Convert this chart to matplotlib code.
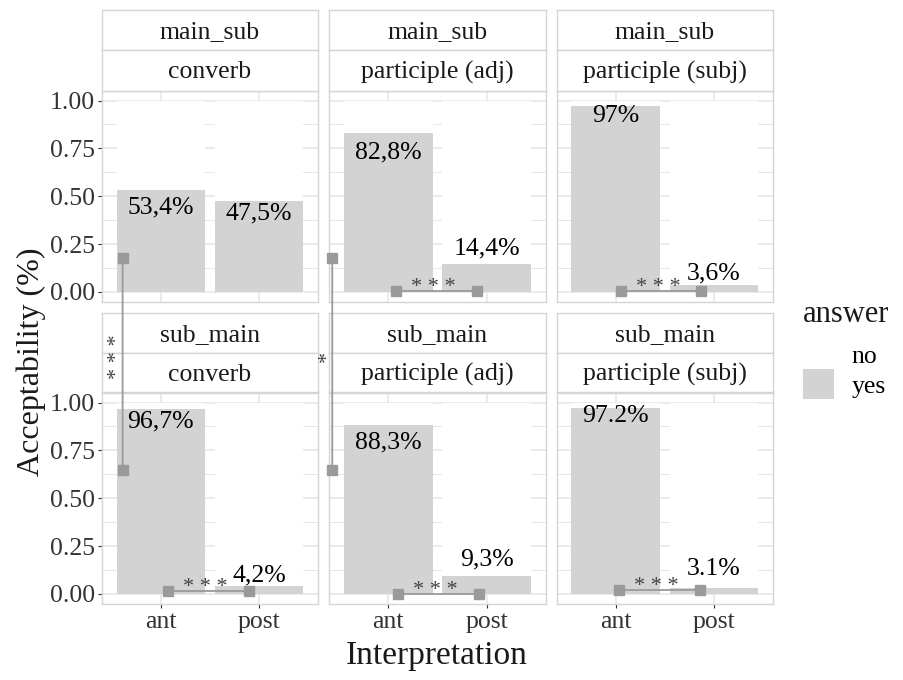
import numpy as np
import matplotlib
matplotlib.use('Agg')
import matplotlib.pyplot as plt
from matplotlib.patches import Patch, ConnectionPatch
from matplotlib.transforms import ScaledTranslation

plt.rcParams['font.family'] = ['Liberation Serif', 'DejaVu Serif']

# ── data ─────────────────────────────────────────────────────
orders = ['main_sub', 'sub_main']
constructions = ['converb', 'participle (adj)', 'participle (subj)']
interpretations = ['ant', 'post']

# share of "yes" answers per construction: [ant, post]
main_sub_yes = [[0.534, 0.475], [0.828, 0.144], [0.970, 0.036]]
sub_main_yes = [[0.967, 0.042], [0.883, 0.093], [0.972, 0.031]]

main_sub_labels = [['53,4%', '47,5%'], ['82,8%', '14,4%'], ['97%', '3,6%']]
sub_main_labels = [['96,7%', '4,2%'], ['88,3%', '9,3%'], ['97.2%', '3.1%']]

# ant vs post within each panel
main_sub_sig = [None, '***', '***']
sub_main_sig = ['***', '***', '***']
# main_sub vs sub_main (ant) per construction
order_sig = ['***', '*', None]

# ── style ────────────────────────────────────────────────────
YES_GREY = '#D3D3D3'
GRID = '#E6E6E6'
BORDER = '#D5D5D5'
SIG_GREY = '#9A9A9A'
STAR = '#444444'
TXT = '#1A1A1A'
TICK_TXT = '#333333'

# label nudges (fraction of y axis) for the percentage texts
label_nudge = [[[-0.094, -0.065], [-0.098, 0.084], [-0.050, 0.061]],
               [[-0.067, 0.054], [-0.093, 0.087], [-0.042, 0.099]]]
# bracket end offsets in each panel (x) and its height (y)
br_x = [[None, (1.075, 1.90), (1.05, 1.87)],
        [(1.07, 1.90), (1.095, 1.92), (1.03, 1.855)]]
br_y = [[None, 0.007, 0.005], [0.015, 0.0, 0.02]]
vbr_x = [0.61, 0.43]
vbr_y = (0.175, 0.647)

W, H = 904, 680
fig = plt.figure(figsize=(W / 100, H / 100), dpi=100)


def px_axes(left, top, right, bottom):
    return fig.add_axes([left / W, 1 - bottom / H, (right - left) / W, (bottom - top) / H])


col_px = [(102, 318), (329.3, 545.7), (556.7, 772.7)]
plot_rows = [(90.5, 302), (392.5, 604)]
strip_rows = [[(10, 50), (50, 90.5)], [(313, 353), (353, 392.5)]]

yes_by_row = [main_sub_yes, sub_main_yes]
lab_by_row = [main_sub_labels, sub_main_labels]
sig_by_row = [main_sub_sig, sub_main_sig]

axes = [[None] * 3 for _ in range(2)]
x = np.arange(1, len(interpretations) + 1)

for r in range(2):
    for c in range(3):
        l, rr = col_px[c]
        t, b = plot_rows[r]
        ax = px_axes(l, t, rr, b)
        axes[r][c] = ax
        yes = np.array(yes_by_row[r][c])

        ax.bar(x, yes, width=0.9, color=YES_GREY, zorder=2)
        ax.bar(x, 1 - yes, bottom=yes, width=0.9, color='white', zorder=2)

        ax.set_xlim(0.4, 2.6)
        ax.set_ylim(-0.0525, 1.0525)
        ax.set_xticks(x)
        ax.set_yticks([0, 0.25, 0.5, 0.75, 1.0])
        ax.set_yticks(np.arange(0.125, 1.0, 0.25), minor=True)
        ax.grid(which='major', color=GRID, lw=1.1, zorder=0)
        ax.grid(which='minor', axis='y', color=GRID, lw=0.7, zorder=0)
        ax.tick_params(axis='x', which='minor', bottom=False)
        ax.set_axisbelow(True)
        for s in ax.spines.values():
            s.set_color(BORDER)
            s.set_linewidth(1.0)

        ax.tick_params(which='major', length=3, width=0.8, color=TICK_TXT,
                       labelcolor=TICK_TXT, labelsize=18.5, pad=2)
        ax.tick_params(which='minor', left=False)
        if c == 0:
            ax.set_yticklabels(['0.00', '0.25', '0.50', '0.75', '1.00'])
        else:
            ax.tick_params(axis='y', left=False, labelleft=False)
        if r == 1:
            ax.set_xticklabels(interpretations)
        else:
            ax.tick_params(axis='x', bottom=False, labelbottom=False)

        # percentage labels
        for i, xi in enumerate(x):
            ax.text(xi, yes[i] + label_nudge[r][c][i], lab_by_row[r][c][i],
                    ha='center', va='center', fontsize=18.5, color='black', zorder=5)

        # ant vs post bracket
        sig = sig_by_row[r][c]
        if sig:
            x0, x1 = br_x[r][c]
            yb = br_y[r][c]
            ax.plot([x0, x1], [yb, yb], color=SIG_GREY, lw=1.3, marker='s', ms=6.5,
                    zorder=6, clip_on=False)
            ax.text((x0 + x1) / 2 - 0.03, yb - 0.005, ' '.join(sig), ha='center',
                    va='baseline', fontsize=16, color=STAR, zorder=6)

        # facet strips
        for level, (st, sb) in enumerate(strip_rows[r]):
            sax = px_axes(l, st, rr, sb)
            sax.set_xticks([])
            sax.set_yticks([])
            for s in sax.spines.values():
                s.set_color(BORDER)
                s.set_linewidth(1.0)
            text = orders[r] if level == 0 else constructions[c]
            sax.text(0.5, 0.45, text, ha='center', va='center', fontsize=18.5,
                     color=TXT, transform=sax.transAxes)

# main_sub vs sub_main brackets across rows
for c, sig in enumerate(order_sig):
    if not sig:
        continue
    xv = vbr_x[c]
    top_ax, bot_ax = axes[0][c], axes[1][c]
    top_ax.plot(xv, vbr_y[0], marker='s', ms=6.5, color=SIG_GREY, zorder=7, clip_on=False)
    bot_ax.plot(xv, vbr_y[1], marker='s', ms=6.5, color=SIG_GREY, zorder=7, clip_on=False)
    con = ConnectionPatch(xyA=(xv, vbr_y[0]), coordsA=top_ax.transData,
                          xyB=(xv, vbr_y[1]), coordsB=bot_ax.transData,
                          color=SIG_GREY, lw=1.3, zorder=7)
    fig.add_artist(con)
    shift = ScaledTranslation(-0.05, 0, fig.dpi_scale_trans)
    fig.text(xv, 1.24, ' '.join(sig), rotation=90, ha='center', va='center',
             fontsize=16, color=STAR, transform=bot_ax.transData + shift, zorder=8)

# axis titles
fig.text(31 / W, 1 - 362 / H, 'Acceptability (%)', rotation=90, ha='center',
         va='center', fontsize=23, color=TXT)
fig.text(437 / W, 1 - 656 / H, 'Interpretation', ha='center', va='center',
         fontsize=24, color=TXT)

# legend (title set apart from the keys)
fig.text(803 / W, 1 - 314 / H, 'answer', ha='left', va='center', fontsize=22, color=TXT)
handles = [Patch(facecolor='white', edgecolor='none'), Patch(facecolor=YES_GREY, edgecolor='none')]
fig.legend(handles, ['no', 'yes'], loc='upper left',
           bbox_to_anchor=(803 / W, 1 - 339 / H), frameon=False, fontsize=18.5,
           handlelength=1.2, handleheight=1.42, labelspacing=0.0,
           handletextpad=0.7, borderpad=0.0, borderaxespad=0.0)

fig.savefig('out.png', dpi=100, facecolor='white')
